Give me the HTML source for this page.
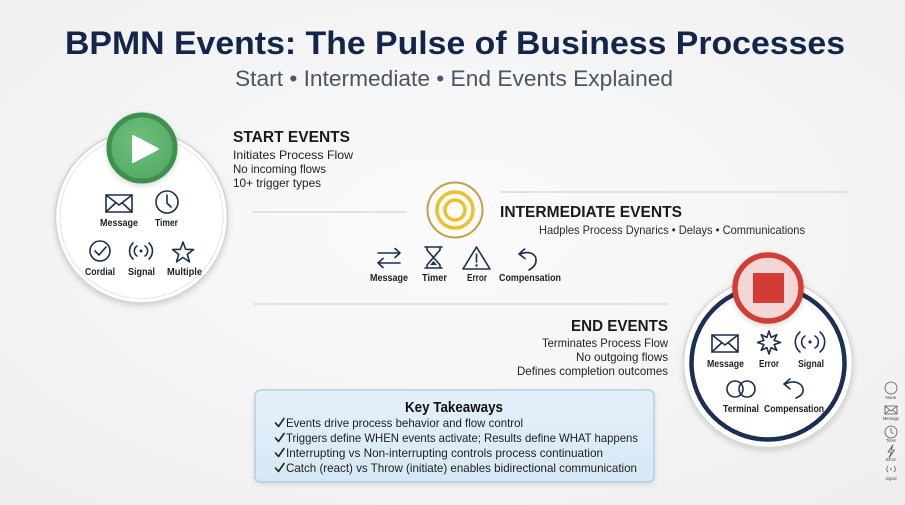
<!DOCTYPE html>
<html><head><meta charset="utf-8"><style>
html,body{margin:0;padding:0;width:905px;height:505px;overflow:hidden;background:#f5f5f5}
svg{display:block}
text{font-family:"Liberation Sans",Arial,sans-serif}
</style></head><body>
<svg width="905" height="505" viewBox="0 0 905 505" xmlns="http://www.w3.org/2000/svg">
<defs>
<radialGradient id="bg" cx="50%" cy="45%" r="75%">
<stop offset="0" stop-color="#fbfbfb"/><stop offset="1" stop-color="#eeeeee"/>
</radialGradient>
<filter id="sh" x="-30%" y="-30%" width="160%" height="160%"><feDropShadow dx="0" dy="2" stdDeviation="3" flood-color="#000" flood-opacity="0.16"/></filter>
<filter id="sh2" x="-10%" y="-20%" width="120%" height="150%"><feDropShadow dx="0" dy="2" stdDeviation="2.5" flood-color="#000" flood-opacity="0.12"/></filter>
<linearGradient id="box" x1="0" y1="0" x2="0" y2="1"><stop offset="0" stop-color="#e4f0fa"/><stop offset="1" stop-color="#d6e8f6"/></linearGradient>
<radialGradient id="green" cx="45%" cy="40%" r="60%"><stop offset="0" stop-color="#6fc27e"/><stop offset="1" stop-color="#55aa65"/></radialGradient>
</defs>
<rect width="905" height="505" fill="url(#bg)"/>

<!-- Title -->
<text x="65" y="54" font-size="32" font-weight="bold" fill="#13264a" textLength="780" lengthAdjust="spacingAndGlyphs">BPMN Events: The Pulse of Business Processes</text>
<text x="235" y="86" font-size="22" fill="#4b5563" textLength="438" lengthAdjust="spacingAndGlyphs">Start • Intermediate • End Events Explained</text>

<!-- separators -->
<g stroke="#d9dbde" stroke-width="1.5">
<line x1="253" y1="212" x2="407" y2="212"/>
<line x1="500" y1="192" x2="850" y2="192"/>
<line x1="253" y1="304" x2="668" y2="304"/>
</g>

<!-- Start circle -->
<circle cx="141.5" cy="217" r="86" fill="#fff" stroke="#d2d2d2" stroke-width="1.5" filter="url(#sh)"/>
<circle cx="141.5" cy="217" r="81.5" fill="none" stroke="#ececec" stroke-width="1.5"/>
<circle cx="142" cy="148" r="33" fill="url(#green)" stroke="#3e9150" stroke-width="5" filter="url(#sh)"/>
<path d="M133 136 L158 149 L133 162 Z" fill="#fff" stroke="#fff" stroke-width="2" stroke-linejoin="round"/>

<g fill="none" stroke="#1c2e4f" stroke-width="1.6" stroke-linejoin="round" stroke-linecap="round">
<!-- envelope -->
<rect x="106" y="195" width="26" height="17"/>
<path d="M106 195 L119 205 L132 195 M106 212 L115.5 203 M132 212 L122.5 203"/>
<!-- clock -->
<circle cx="167" cy="202" r="11"/>
<path d="M167 195 L167 203 L171 207"/>
<!-- check -->
<circle cx="100" cy="251" r="10"/>
<path d="M95 251 L99 255 L106 247"/>
<!-- signal -->
<path d="M137 246 A6 6 0 0 0 137 256 M145 246 A6 6 0 0 1 145 256 M133 243 A11 11 0 0 0 133 259 M149 243 A11 11 0 0 1 149 259"/>
<!-- star -->
<polygon points="183,242 185.65,249.36 193.46,249.6 187.28,254.39 189.47,261.9 183,257.5 176.53,261.9 178.72,254.39 172.54,249.6 180.35,249.36"/>
</g>
<circle cx="141" cy="251" r="1.5" fill="#1c2e4f"/>

<g font-size="10" font-weight="bold" fill="#1f1f1f" text-anchor="middle">
<text x="119" y="226" textLength="38" lengthAdjust="spacingAndGlyphs">Message</text>
<text x="166.5" y="226" textLength="23" lengthAdjust="spacingAndGlyphs">Timer</text>
<text x="100" y="275" textLength="30" lengthAdjust="spacingAndGlyphs">Cordial</text>
<text x="141.5" y="275" textLength="27" lengthAdjust="spacingAndGlyphs">Signal</text>
<text x="184.5" y="275" textLength="35" lengthAdjust="spacingAndGlyphs">Multiple</text>
</g>

<!-- Start text -->
<text x="233" y="142" font-size="15.5" font-weight="bold" fill="#1a1a1a" textLength="117" lengthAdjust="spacingAndGlyphs">START EVENTS</text>
<g font-size="12" fill="#222">
<text x="233" y="159" textLength="120" lengthAdjust="spacingAndGlyphs">Initiates Process Flow</text>
<text x="233" y="173" textLength="93" lengthAdjust="spacingAndGlyphs">No incoming flows</text>
<text x="233" y="187" textLength="88" lengthAdjust="spacingAndGlyphs">10+ trigger types</text>
</g>

<!-- Intermediate circle -->
<circle cx="455" cy="210" r="27.5" fill="#fbfbfb" stroke="#c49f45" stroke-width="2"/>
<circle cx="455" cy="210" r="18" fill="none" stroke="#ecc12c" stroke-width="3.5"/>
<circle cx="455" cy="210" r="10" fill="none" stroke="#ecc12c" stroke-width="3.5"/>

<text x="500" y="217" font-size="16" font-weight="bold" fill="#1a1a1a" textLength="182" lengthAdjust="spacingAndGlyphs">INTERMEDIATE EVENTS</text>
<text x="539" y="234" font-size="12" fill="#2a2a2a" textLength="266" lengthAdjust="spacingAndGlyphs">Hadples Process Dynarics • Delays • Communications</text>

<g fill="none" stroke="#1c2e4f" stroke-width="1.6" stroke-linejoin="round" stroke-linecap="round">
<path d="M378 253 L400 253 M395 248.5 L400 253 L395 257.5 M400 263 L378 263 M383 258.5 L378 263 L383 267.5"/>
<path d="M425 247 L442 247 M425 268 L442 268 M427 247 L427 250 L433.5 257.5 L427 265 L427 268 M440 247 L440 250 L433.5 257.5 L440 265 L440 268"/>
<path d="M476.5 247 L490 269 L463 269 Z"/>
<path d="M476.5 254 L476.5 262"/>
<path d="M520 254 Q531 250 535.5 257 Q538 265 529 270 M524.5 249 L519 254 L525 258.5"/>
</g>
<path d="M430 265 L437 265 L433.5 261 Z" fill="#1c2e4f"/>
<circle cx="476.5" cy="265.5" r="1.2" fill="#1c2e4f"/>
<g font-size="10" font-weight="bold" fill="#1f1f1f" text-anchor="middle">
<text x="389" y="281" textLength="38" lengthAdjust="spacingAndGlyphs">Message</text>
<text x="434.5" y="281" textLength="25" lengthAdjust="spacingAndGlyphs">Timer</text>
<text x="477" y="281" textLength="20" lengthAdjust="spacingAndGlyphs">Error</text>
<text x="530" y="281" textLength="62" lengthAdjust="spacingAndGlyphs">Compensation</text>
</g>

<!-- End text -->
<text x="668" y="331" text-anchor="end" font-size="16" font-weight="bold" fill="#1a1a1a" textLength="97" lengthAdjust="spacingAndGlyphs">END EVENTS</text>
<g font-size="12" fill="#222" text-anchor="end">
<text x="668" y="347" textLength="126" lengthAdjust="spacingAndGlyphs">Terminates Process Flow</text>
<text x="668" y="361" textLength="92" lengthAdjust="spacingAndGlyphs">No outgoing flows</text>
<text x="668" y="375" textLength="151" lengthAdjust="spacingAndGlyphs">Defines completion outcomes</text>
</g>

<!-- End circle -->
<circle cx="768" cy="363" r="84.5" fill="#fff" stroke="#d6d6d6" stroke-width="1.5" filter="url(#sh)"/>
<circle cx="768" cy="363" r="76.5" fill="none" stroke="#1b2f55" stroke-width="4.5"/>
<circle cx="768" cy="288" r="33" fill="#f4d6d4" stroke="#d23c35" stroke-width="5.5" filter="url(#sh)"/>
<rect x="753" y="273" width="31" height="30" fill="#d23c35"/>

<g fill="none" stroke="#1c2e4f" stroke-width="1.6" stroke-linejoin="round" stroke-linecap="round">
<rect x="712" y="335" width="26" height="17"/>
<path d="M712 335 L725 345 L738 335 M712 352 L721.5 343 M738 352 L728.5 343"/>
<polygon points="769,331 771.1,337.4 776.8,334.7 774.1,340.4 780.5,342.5 774.1,344.6 776.8,350.3 771.1,347.6 769,354 766.9,347.6 761.2,350.3 763.9,344.6 757.5,342.5 763.9,340.4 761.2,334.7 766.9,337.4"/>
<path d="M805 336 A7 7 0 0 0 805 348 M815 336 A7 7 0 0 1 815 348 M800 332 A13 13 0 0 0 800 352 M820 332 A13 13 0 0 1 820 352"/>
<circle cx="735" cy="389" r="8"/>
<circle cx="747" cy="389" r="8"/>
<path d="M785 384 Q796 379 802 386 Q806 394 796 398 M790 379 L784 384 L790 389"/>
</g>
<circle cx="810" cy="342" r="1.6" fill="#1c2e4f"/>
<g font-size="10" font-weight="bold" fill="#1f1f1f" text-anchor="middle">
<text x="725.5" y="367" textLength="37" lengthAdjust="spacingAndGlyphs">Message</text>
<text x="769" y="367" textLength="20" lengthAdjust="spacingAndGlyphs">Error</text>
<text x="811" y="367" textLength="26" lengthAdjust="spacingAndGlyphs">Signal</text>
<text x="741" y="412" textLength="36" lengthAdjust="spacingAndGlyphs">Terminal</text>
<text x="794" y="412" textLength="60" lengthAdjust="spacingAndGlyphs">Compensation</text>
</g>

<!-- Key takeaways -->
<rect x="255" y="390" width="399" height="92" rx="6" fill="url(#box)" stroke="#a6c8e6" stroke-width="1.2" filter="url(#sh2)"/>
<text x="454" y="412" text-anchor="middle" font-size="15" font-weight="bold" fill="#111" textLength="98" lengthAdjust="spacingAndGlyphs">Key Takeaways</text>
<g fill="none" stroke="#222" stroke-width="1.6" stroke-linecap="round" stroke-linejoin="round">
<path d="M275.5 423 L278.5 426.5 L284 418.5"/>
<path d="M275.5 438 L278.5 441.5 L284 433.5"/>
<path d="M275.5 453 L278.5 456.5 L284 448.5"/>
<path d="M275.5 468 L278.5 471.5 L284 463.5"/>
</g>
<g font-size="12" fill="#1e1e1e">
<text x="286" y="427" textLength="237" lengthAdjust="spacingAndGlyphs">Events drive process behavior and flow control</text>
<text x="286" y="442" textLength="352" lengthAdjust="spacingAndGlyphs">Triggers define WHEN events activate; Results define WHAT happens</text>
<text x="286" y="457" textLength="317" lengthAdjust="spacingAndGlyphs">Interrupting vs Non-interrupting controls process continuation</text>
<text x="286" y="472" textLength="351" lengthAdjust="spacingAndGlyphs">Catch (react) vs Throw (initiate) enables bidirectional communication</text>
</g>

<!-- Right mini legend -->
<g fill="none" stroke="#555" stroke-width="0.8" stroke-linejoin="round">
<circle cx="891" cy="388" r="6"/>
<rect x="885" y="406" width="12" height="8"/>
<path d="M885 406 L891 411 L897 406 M885 414 L889.5 410 M897 414 L892.5 410"/>
<circle cx="891" cy="432" r="6"/>
<path d="M891 428 L891 432 L893.5 434"/>
<path d="M893 445 L888 452 L891.5 452 L889 458 L894.5 450 L891 450 Z"/>
<path d="M888 466 A4 4 0 0 0 888 472 M894 466 A4 4 0 0 1 894 472"/>
</g>
<circle cx="891" cy="469" r="0.8" fill="#555"/>
<g font-size="4.5" fill="#444" text-anchor="middle">
<text x="891" y="399" textLength="11" lengthAdjust="spacingAndGlyphs">None</text>
<text x="891" y="420" textLength="16" lengthAdjust="spacingAndGlyphs">Message</text>
<text x="891" y="442" textLength="10" lengthAdjust="spacingAndGlyphs">Timer</text>
<text x="891" y="461" textLength="10" lengthAdjust="spacingAndGlyphs">Error</text>
<text x="891" y="480" textLength="11" lengthAdjust="spacingAndGlyphs">Signal</text>
</g>
</svg>
</body></html>
